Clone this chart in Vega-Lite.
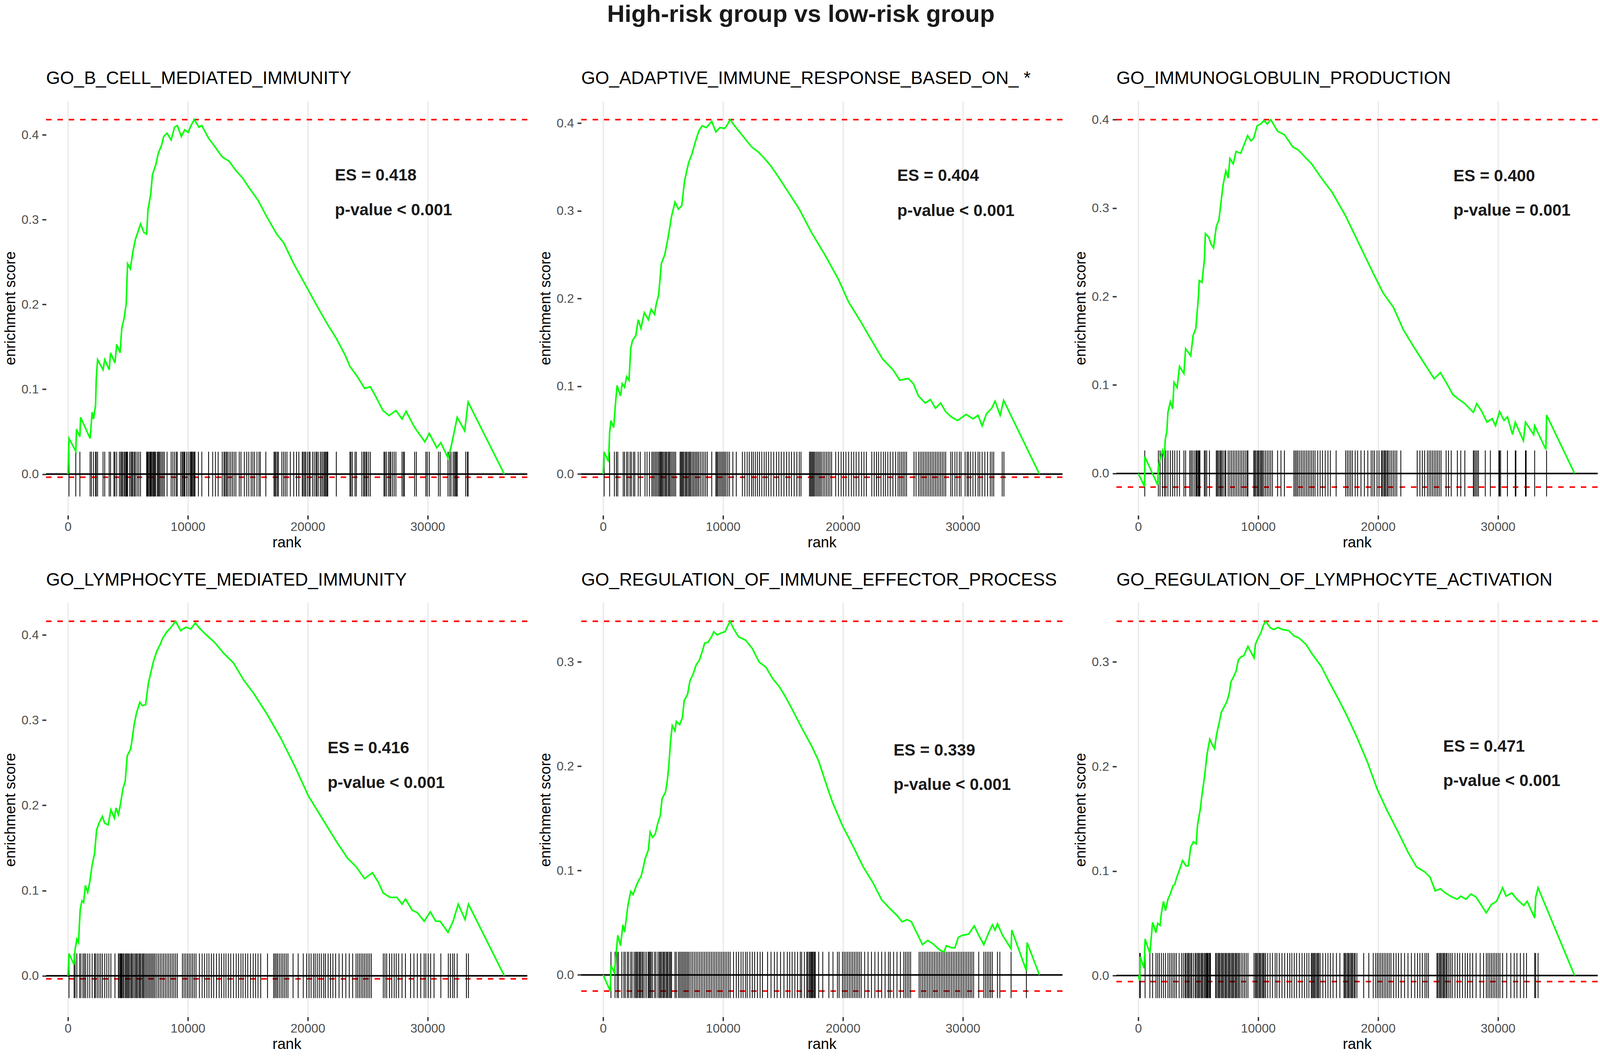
{
"$schema": "https://vega.github.io/schema/vega-lite/v6.json",
"background": "white",
"padding": {"left": 8, "top": 6, "right": 0, "bottom": 0},
"title": {"text": "High-risk group vs low-risk group", "fontSize": 62, "fontWeight": "bold", "anchor": "middle", "frame": "bounds", "baseline": "alphabetic", "offset": 60, "color": "#1A1A1A"},
"config": {
  "font": "Liberation Sans",
  "view": {"stroke": null},
  "axis": {"domain": false, "gridColor": "#EBEBEB", "gridWidth": 3.6, "tickColor": "#333333", "tickWidth": 3.6, "tickSize": 10, "labelColor": "#4D4D4D", "labelFontSize": 32, "labelFont": "Liberation Sans", "titleFont": "Liberation Sans", "titleFontSize": 38, "titleFontWeight": "normal", "titleColor": "#000000"},
  "title": {"font": "Liberation Sans", "fontSize": 46, "fontWeight": "normal", "anchor": "start", "frame": "group", "color": "#000000", "baseline": "alphabetic", "offset": 33}
},
"datasets": {
"curve": [
{"p":"A","r":0,"es":0},{"p":"A","r":85,"es":0.042},{"p":"A","r":653,"es":0.027},{"p":"A","r":710,"es":0.053},{"p":"A","r":994,"es":0.044},{"p":"A","r":1051,"es":0.067},{"p":"A","r":1847,"es":0.042},{"p":"A","r":2017,"es":0.073},{"p":"A","r":2131,"es":0.065},{"p":"A","r":2301,"es":0.081},{"p":"A","r":2358,"es":0.112},{"p":"A","r":2472,"es":0.135},{"p":"A","r":2926,"es":0.123},{"p":"A","r":3068,"es":0.135},{"p":"A","r":3438,"es":0.123},{"p":"A","r":3551,"es":0.143},{"p":"A","r":3921,"es":0.131},{"p":"A","r":4063,"es":0.153},{"p":"A","r":4347,"es":0.143},{"p":"A","r":4489,"es":0.172},{"p":"A","r":4688,"es":0.184},{"p":"A","r":4858,"es":0.201},{"p":"A","r":4972,"es":0.248},{"p":"A","r":5199,"es":0.242},{"p":"A","r":5426,"es":0.263},{"p":"A","r":5625,"es":0.277},{"p":"A","r":5824,"es":0.285},{"p":"A","r":6051,"es":0.295},{"p":"A","r":6335,"es":0.285},{"p":"A","r":6563,"es":0.283},{"p":"A","r":6676,"es":0.312},{"p":"A","r":6904,"es":0.330},{"p":"A","r":7046,"es":0.353},{"p":"A","r":7330,"es":0.365},{"p":"A","r":7529,"es":0.378},{"p":"A","r":7813,"es":0.388},{"p":"A","r":7983,"es":0.398},{"p":"A","r":8267,"es":0.402},{"p":"A","r":8608,"es":0.394},{"p":"A","r":8892,"es":0.409},{"p":"A","r":9120,"es":0.411},{"p":"A","r":9461,"es":0.398},{"p":"A","r":9745,"es":0.406},{"p":"A","r":10029,"es":0.403},{"p":"A","r":10256,"es":0.411},{"p":"A","r":10540,"es":0.418},{"p":"A","r":10938,"es":0.409},{"p":"A","r":11165,"es":0.411},{"p":"A","r":11733,"es":0.396},{"p":"A","r":12160,"es":0.388},{"p":"A","r":12870,"es":0.374},{"p":"A","r":13438,"es":0.369},{"p":"A","r":14006,"es":0.358},{"p":"A","r":14574,"es":0.349},{"p":"A","r":15143,"es":0.337},{"p":"A","r":15853,"es":0.323},{"p":"A","r":16563,"es":0.304},{"p":"A","r":17415,"es":0.283},{"p":"A","r":17984,"es":0.273},{"p":"A","r":18836,"es":0.248},{"p":"A","r":19972,"es":0.219},{"p":"A","r":20825,"es":0.197},{"p":"A","r":21677,"es":0.176},{"p":"A","r":22387,"es":0.160},{"p":"A","r":23097,"es":0.141},{"p":"A","r":23523,"es":0.127},{"p":"A","r":24092,"es":0.116},{"p":"A","r":24745,"es":0.101},{"p":"A","r":25228,"es":0.103},{"p":"A","r":25654,"es":0.092},{"p":"A","r":26279,"es":0.075},{"p":"A","r":26791,"es":0.069},{"p":"A","r":27359,"es":0.075},{"p":"A","r":27870,"es":0.065},{"p":"A","r":28211,"es":0.074},{"p":"A","r":28921,"es":0.055},{"p":"A","r":29774,"es":0.038},{"p":"A","r":30143,"es":0.048},{"p":"A","r":30768,"es":0.031},{"p":"A","r":31109,"es":0.037},{"p":"A","r":31706,"es":0.019},{"p":"A","r":31961,"es":0.032},{"p":"A","r":32473,"es":0.067},{"p":"A","r":33098,"es":0.051},{"p":"A","r":33382,"es":0.085},{"p":"A","r":36400,"es":0},
{"p":"B","r":0,"es":0},{"p":"B","r":85,"es":0.025},{"p":"B","r":455,"es":0.014},{"p":"B","r":540,"es":0.047},{"p":"B","r":653,"es":0.061},{"p":"B","r":881,"es":0.053},{"p":"B","r":1023,"es":0.079},{"p":"B","r":1165,"es":0.101},{"p":"B","r":1449,"es":0.089},{"p":"B","r":1591,"es":0.103},{"p":"B","r":1790,"es":0.099},{"p":"B","r":1960,"es":0.111},{"p":"B","r":2159,"es":0.107},{"p":"B","r":2301,"es":0.143},{"p":"B","r":2443,"es":0.152},{"p":"B","r":2727,"es":0.158},{"p":"B","r":2926,"es":0.176},{"p":"B","r":3154,"es":0.166},{"p":"B","r":3438,"es":0.184},{"p":"B","r":3779,"es":0.176},{"p":"B","r":4006,"es":0.188},{"p":"B","r":4290,"es":0.182},{"p":"B","r":4432,"es":0.194},{"p":"B","r":4631,"es":0.204},{"p":"B","r":4858,"es":0.240},{"p":"B","r":5142,"es":0.250},{"p":"B","r":5426,"es":0.270},{"p":"B","r":5710,"es":0.294},{"p":"B","r":5995,"es":0.310},{"p":"B","r":6279,"es":0.302},{"p":"B","r":6563,"es":0.306},{"p":"B","r":6790,"es":0.334},{"p":"B","r":7131,"es":0.355},{"p":"B","r":7415,"es":0.365},{"p":"B","r":7699,"es":0.379},{"p":"B","r":7983,"es":0.391},{"p":"B","r":8267,"es":0.397},{"p":"B","r":8608,"es":0.395},{"p":"B","r":9063,"es":0.402},{"p":"B","r":9404,"es":0.390},{"p":"B","r":9745,"es":0.395},{"p":"B","r":10114,"es":0.394},{"p":"B","r":10313,"es":0.397},{"p":"B","r":10597,"es":0.404},{"p":"B","r":10966,"es":0.397},{"p":"B","r":11677,"es":0.385},{"p":"B","r":12387,"es":0.373},{"p":"B","r":12955,"es":0.367},{"p":"B","r":13381,"es":0.361},{"p":"B","r":13949,"es":0.352},{"p":"B","r":14660,"es":0.338},{"p":"B","r":15512,"es":0.320},{"p":"B","r":16364,"es":0.302},{"p":"B","r":17358,"es":0.276},{"p":"B","r":18495,"es":0.250},{"p":"B","r":19631,"es":0.222},{"p":"B","r":20484,"es":0.196},{"p":"B","r":21478,"es":0.174},{"p":"B","r":22330,"es":0.154},{"p":"B","r":23325,"es":0.131},{"p":"B","r":24177,"es":0.119},{"p":"B","r":24745,"es":0.107},{"p":"B","r":25455,"es":0.109},{"p":"B","r":25882,"es":0.103},{"p":"B","r":26308,"es":0.089},{"p":"B","r":26876,"es":0.081},{"p":"B","r":27302,"es":0.085},{"p":"B","r":27728,"es":0.075},{"p":"B","r":28154,"es":0.081},{"p":"B","r":28580,"es":0.071},{"p":"B","r":29063,"es":0.065},{"p":"B","r":29575,"es":0.061},{"p":"B","r":30285,"es":0.068},{"p":"B","r":30853,"es":0.063},{"p":"B","r":31279,"es":0.067},{"p":"B","r":31620,"es":0.055},{"p":"B","r":31990,"es":0.069},{"p":"B","r":32416,"es":0.075},{"p":"B","r":32700,"es":0.083},{"p":"B","r":33126,"es":0.067},{"p":"B","r":33411,"es":0.084},{"p":"B","r":36400,"es":0},
{"p":"C","r":0,"es":0},{"p":"C","r":530,"es":-0.015},{"p":"C","r":545,"es":0.019},{"p":"C","r":1619,"es":-0.013},{"p":"C","r":1676,"es":0.008},{"p":"C","r":2017,"es":0.026},{"p":"C","r":2188,"es":0.018},{"p":"C","r":2244,"es":0.038},{"p":"C","r":2386,"es":0.048},{"p":"C","r":2472,"es":0.069},{"p":"C","r":2671,"es":0.081},{"p":"C","r":2869,"es":0.073},{"p":"C","r":2983,"es":0.103},{"p":"C","r":3239,"es":0.097},{"p":"C","r":3438,"es":0.121},{"p":"C","r":3807,"es":0.113},{"p":"C","r":3949,"es":0.141},{"p":"C","r":4375,"es":0.133},{"p":"C","r":4574,"es":0.156},{"p":"C","r":4801,"es":0.164},{"p":"C","r":5029,"es":0.202},{"p":"C","r":5085,"es":0.218},{"p":"C","r":5313,"es":0.216},{"p":"C","r":5512,"es":0.241},{"p":"C","r":5597,"es":0.271},{"p":"C","r":5881,"es":0.267},{"p":"C","r":6080,"es":0.259},{"p":"C","r":6279,"es":0.255},{"p":"C","r":6506,"es":0.279},{"p":"C","r":6733,"es":0.287},{"p":"C","r":6932,"es":0.310},{"p":"C","r":7074,"es":0.326},{"p":"C","r":7301,"es":0.342},{"p":"C","r":7500,"es":0.334},{"p":"C","r":7642,"es":0.356},{"p":"C","r":7926,"es":0.350},{"p":"C","r":8154,"es":0.364},{"p":"C","r":8551,"es":0.362},{"p":"C","r":8779,"es":0.370},{"p":"C","r":9120,"es":0.382},{"p":"C","r":9404,"es":0.376},{"p":"C","r":9631,"es":0.379},{"p":"C","r":9915,"es":0.393},{"p":"C","r":10199,"es":0.395},{"p":"C","r":10483,"es":0.399},{"p":"C","r":10768,"es":0.395},{"p":"C","r":11052,"es":0.400},{"p":"C","r":11620,"es":0.387},{"p":"C","r":12188,"es":0.383},{"p":"C","r":12898,"es":0.369},{"p":"C","r":13324,"es":0.366},{"p":"C","r":13892,"es":0.358},{"p":"C","r":14461,"es":0.350},{"p":"C","r":15171,"es":0.336},{"p":"C","r":16165,"es":0.318},{"p":"C","r":17301,"es":0.291},{"p":"C","r":18438,"es":0.259},{"p":"C","r":19575,"es":0.227},{"p":"C","r":20427,"es":0.204},{"p":"C","r":21279,"es":0.188},{"p":"C","r":22131,"es":0.162},{"p":"C","r":22984,"es":0.143},{"p":"C","r":23836,"es":0.125},{"p":"C","r":24688,"es":0.107},{"p":"C","r":25200,"es":0.114},{"p":"C","r":25683,"es":0.103},{"p":"C","r":26251,"es":0.089},{"p":"C","r":26819,"es":0.083},{"p":"C","r":27245,"es":0.079},{"p":"C","r":27671,"es":0.073},{"p":"C","r":27955,"es":0.069},{"p":"C","r":28240,"es":0.079},{"p":"C","r":28665,"es":0.070},{"p":"C","r":29092,"es":0.058},{"p":"C","r":29518,"es":0.062},{"p":"C","r":29802,"es":0.054},{"p":"C","r":30143,"es":0.070},{"p":"C","r":30512,"es":0.060},{"p":"C","r":30796,"es":0.064},{"p":"C","r":31222,"es":0.044},{"p":"C","r":31450,"es":0.058},{"p":"C","r":32131,"es":0.037},{"p":"C","r":32302,"es":0.058},{"p":"C","r":32984,"es":0.044},{"p":"C","r":33069,"es":0.054},{"p":"C","r":34006,"es":0.027},{"p":"C","r":34063,"es":0.066},{"p":"C","r":36400,"es":0},
{"p":"D","r":0,"es":0},{"p":"D","r":85,"es":0.026},{"p":"D","r":511,"es":0.013},{"p":"D","r":597,"es":0.031},{"p":"D","r":739,"es":0.043},{"p":"D","r":881,"es":0.039},{"p":"D","r":966,"es":0.064},{"p":"D","r":1023,"es":0.078},{"p":"D","r":1165,"es":0.088},{"p":"D","r":1307,"es":0.086},{"p":"D","r":1449,"es":0.106},{"p":"D","r":1648,"es":0.098},{"p":"D","r":1818,"es":0.110},{"p":"D","r":2017,"es":0.130},{"p":"D","r":2216,"es":0.143},{"p":"D","r":2386,"es":0.171},{"p":"D","r":2585,"es":0.179},{"p":"D","r":2869,"es":0.187},{"p":"D","r":3068,"es":0.179},{"p":"D","r":3352,"es":0.177},{"p":"D","r":3580,"es":0.195},{"p":"D","r":3864,"es":0.185},{"p":"D","r":4006,"es":0.197},{"p":"D","r":4205,"es":0.189},{"p":"D","r":4375,"es":0.201},{"p":"D","r":4574,"es":0.219},{"p":"D","r":4773,"es":0.228},{"p":"D","r":4943,"es":0.258},{"p":"D","r":5227,"es":0.266},{"p":"D","r":5341,"es":0.276},{"p":"D","r":5512,"es":0.294},{"p":"D","r":5710,"es":0.308},{"p":"D","r":5995,"es":0.321},{"p":"D","r":6193,"es":0.317},{"p":"D","r":6477,"es":0.318},{"p":"D","r":6705,"es":0.343},{"p":"D","r":6932,"es":0.357},{"p":"D","r":7131,"es":0.369},{"p":"D","r":7415,"es":0.381},{"p":"D","r":7699,"es":0.389},{"p":"D","r":7898,"es":0.396},{"p":"D","r":8267,"es":0.404},{"p":"D","r":8551,"es":0.408},{"p":"D","r":8978,"es":0.416},{"p":"D","r":9404,"es":0.405},{"p":"D","r":9830,"es":0.409},{"p":"D","r":10256,"es":0.407},{"p":"D","r":10625,"es":0.414},{"p":"D","r":10966,"es":0.408},{"p":"D","r":11534,"es":0.400},{"p":"D","r":12245,"es":0.391},{"p":"D","r":12955,"es":0.379},{"p":"D","r":13807,"es":0.367},{"p":"D","r":14660,"es":0.347},{"p":"D","r":15512,"es":0.331},{"p":"D","r":16648,"es":0.306},{"p":"D","r":17785,"es":0.278},{"p":"D","r":18921,"es":0.246},{"p":"D","r":20057,"es":0.211},{"p":"D","r":21194,"es":0.185},{"p":"D","r":22330,"es":0.159},{"p":"D","r":23325,"es":0.138},{"p":"D","r":24035,"es":0.128},{"p":"D","r":24745,"es":0.114},{"p":"D","r":25398,"es":0.121},{"p":"D","r":25881,"es":0.110},{"p":"D","r":26308,"es":0.097},{"p":"D","r":26876,"es":0.092},{"p":"D","r":27444,"es":0.092},{"p":"D","r":27870,"es":0.084},{"p":"D","r":28154,"es":0.090},{"p":"D","r":28722,"es":0.077},{"p":"D","r":29148,"es":0.074},{"p":"D","r":29716,"es":0.064},{"p":"D","r":30228,"es":0.075},{"p":"D","r":30682,"es":0.064},{"p":"D","r":31052,"es":0.064},{"p":"D","r":31706,"es":0.051},{"p":"D","r":32131,"es":0.064},{"p":"D","r":32558,"es":0.084},{"p":"D","r":33126,"es":0.066},{"p":"D","r":33410,"es":0.084},{"p":"D","r":36400,"es":0},
{"p":"E","r":0,"es":0},{"p":"E","r":597,"es":-0.0155},{"p":"E","r":653,"es":0.009},{"p":"E","r":938,"es":0.002},{"p":"E","r":1080,"es":0.020},{"p":"E","r":1222,"es":0.038},{"p":"E","r":1449,"es":0.028},{"p":"E","r":1648,"es":0.048},{"p":"E","r":1790,"es":0.041},{"p":"E","r":1932,"es":0.054},{"p":"E","r":2074,"es":0.067},{"p":"E","r":2301,"es":0.080},{"p":"E","r":2500,"es":0.077},{"p":"E","r":2784,"es":0.086},{"p":"E","r":2983,"es":0.091},{"p":"E","r":3154,"es":0.094},{"p":"E","r":3352,"es":0.103},{"p":"E","r":3494,"es":0.111},{"p":"E","r":3779,"es":0.120},{"p":"E","r":3921,"es":0.137},{"p":"E","r":4119,"es":0.132},{"p":"E","r":4347,"es":0.135},{"p":"E","r":4574,"es":0.146},{"p":"E","r":4773,"es":0.153},{"p":"E","r":4915,"es":0.169},{"p":"E","r":5199,"es":0.175},{"p":"E","r":5341,"es":0.185},{"p":"E","r":5483,"es":0.201},{"p":"E","r":5625,"es":0.224},{"p":"E","r":5767,"es":0.239},{"p":"E","r":5995,"es":0.234},{"p":"E","r":6108,"es":0.243},{"p":"E","r":6392,"es":0.240},{"p":"E","r":6620,"es":0.247},{"p":"E","r":6762,"es":0.263},{"p":"E","r":7046,"es":0.269},{"p":"E","r":7245,"es":0.282},{"p":"E","r":7529,"es":0.289},{"p":"E","r":7756,"es":0.297},{"p":"E","r":8040,"es":0.302},{"p":"E","r":8267,"es":0.310},{"p":"E","r":8466,"es":0.318},{"p":"E","r":8750,"es":0.319},{"p":"E","r":9034,"es":0.324},{"p":"E","r":9233,"es":0.329},{"p":"E","r":9517,"es":0.326},{"p":"E","r":9887,"es":0.328},{"p":"E","r":10171,"es":0.329},{"p":"E","r":10370,"es":0.334},{"p":"E","r":10597,"es":0.339},{"p":"E","r":10881,"es":0.332},{"p":"E","r":11307,"es":0.324},{"p":"E","r":11875,"es":0.321},{"p":"E","r":12443,"es":0.313},{"p":"E","r":13012,"es":0.300},{"p":"E","r":13580,"es":0.295},{"p":"E","r":14148,"es":0.284},{"p":"E","r":14716,"es":0.276},{"p":"E","r":15142,"es":0.268},{"p":"E","r":15711,"es":0.256},{"p":"E","r":16563,"es":0.237},{"p":"E","r":17415,"es":0.219},{"p":"E","r":17983,"es":0.205},{"p":"E","r":18552,"es":0.185},{"p":"E","r":19120,"es":0.166},{"p":"E","r":19972,"es":0.143},{"p":"E","r":20825,"es":0.124},{"p":"E","r":21677,"es":0.104},{"p":"E","r":22529,"es":0.088},{"p":"E","r":23239,"es":0.072},{"p":"E","r":23807,"es":0.065},{"p":"E","r":24517,"es":0.057},{"p":"E","r":24944,"es":0.051},{"p":"E","r":25370,"es":0.053},{"p":"E","r":25711,"es":0.051},{"p":"E","r":26222,"es":0.039},{"p":"E","r":26649,"es":0.029},{"p":"E","r":27075,"es":0.033},{"p":"E","r":27501,"es":0.030},{"p":"E","r":28069,"es":0.024},{"p":"E","r":28438,"es":0.022},{"p":"E","r":28637,"es":0.028},{"p":"E","r":29063,"es":0.026},{"p":"E","r":29347,"es":0.026},{"p":"E","r":29631,"es":0.036},{"p":"E","r":29972,"es":0.038},{"p":"E","r":30483,"es":0.039},{"p":"E","r":30966,"es":0.047},{"p":"E","r":31336,"es":0.038},{"p":"E","r":31762,"es":0.029},{"p":"E","r":32188,"es":0.041},{"p":"E","r":32473,"es":0.048},{"p":"E","r":32700,"es":0.043},{"p":"E","r":32899,"es":0.049},{"p":"E","r":33325,"es":0.038},{"p":"E","r":34035,"es":0.025},{"p":"E","r":34092,"es":0.043},{"p":"E","r":35313,"es":0.004},{"p":"E","r":35370,"es":0.031},{"p":"E","r":36400,"es":0},
{"p":"F","r":0,"es":0},{"p":"F","r":114,"es":-0.005},{"p":"F","r":170,"es":0.018},{"p":"F","r":483,"es":0.007},{"p":"F","r":568,"es":0.035},{"p":"F","r":966,"es":0.021},{"p":"F","r":1193,"es":0.051},{"p":"F","r":1477,"es":0.041},{"p":"F","r":1619,"es":0.050},{"p":"F","r":1818,"es":0.048},{"p":"F","r":1932,"es":0.060},{"p":"F","r":2102,"es":0.071},{"p":"F","r":2273,"es":0.062},{"p":"F","r":2472,"es":0.073},{"p":"F","r":2671,"es":0.078},{"p":"F","r":2898,"es":0.086},{"p":"F","r":3040,"es":0.087},{"p":"F","r":3182,"es":0.093},{"p":"F","r":3466,"es":0.102},{"p":"F","r":3693,"es":0.110},{"p":"F","r":3977,"es":0.105},{"p":"F","r":4176,"es":0.105},{"p":"F","r":4375,"es":0.123},{"p":"F","r":4602,"es":0.128},{"p":"F","r":4830,"es":0.126},{"p":"F","r":4943,"es":0.144},{"p":"F","r":5171,"es":0.159},{"p":"F","r":5313,"es":0.173},{"p":"F","r":5512,"es":0.189},{"p":"F","r":5739,"es":0.212},{"p":"F","r":5966,"es":0.226},{"p":"F","r":6165,"es":0.221},{"p":"F","r":6364,"es":0.217},{"p":"F","r":6534,"es":0.231},{"p":"F","r":6733,"es":0.241},{"p":"F","r":6932,"es":0.252},{"p":"F","r":7159,"es":0.257},{"p":"F","r":7387,"es":0.262},{"p":"F","r":7585,"es":0.270},{"p":"F","r":7728,"es":0.281},{"p":"F","r":7955,"es":0.286},{"p":"F","r":8154,"es":0.291},{"p":"F","r":8352,"es":0.302},{"p":"F","r":8580,"es":0.305},{"p":"F","r":8807,"es":0.306},{"p":"F","r":9148,"es":0.315},{"p":"F","r":9375,"es":0.310},{"p":"F","r":9659,"es":0.304},{"p":"F","r":9773,"es":0.317},{"p":"F","r":10000,"es":0.323},{"p":"F","r":10228,"es":0.328},{"p":"F","r":10427,"es":0.335},{"p":"F","r":10625,"es":0.339},{"p":"F","r":10995,"es":0.333},{"p":"F","r":11279,"es":0.331},{"p":"F","r":11648,"es":0.333},{"p":"F","r":12046,"es":0.331},{"p":"F","r":12557,"es":0.330},{"p":"F","r":12983,"es":0.325},{"p":"F","r":13409,"es":0.323},{"p":"F","r":13978,"es":0.317},{"p":"F","r":14546,"es":0.307},{"p":"F","r":15256,"es":0.296},{"p":"F","r":15966,"es":0.280},{"p":"F","r":16677,"es":0.265},{"p":"F","r":17387,"es":0.249},{"p":"F","r":18239,"es":0.228},{"p":"F","r":19092,"es":0.205},{"p":"F","r":19944,"es":0.178},{"p":"F","r":20796,"es":0.157},{"p":"F","r":21648,"es":0.138},{"p":"F","r":22501,"es":0.118},{"p":"F","r":23211,"es":0.104},{"p":"F","r":23921,"es":0.099},{"p":"F","r":24347,"es":0.094},{"p":"F","r":24773,"es":0.081},{"p":"F","r":25200,"es":0.083},{"p":"F","r":25626,"es":0.079},{"p":"F","r":26194,"es":0.075},{"p":"F","r":26620,"es":0.073},{"p":"F","r":26904,"es":0.076},{"p":"F","r":27330,"es":0.073},{"p":"F","r":27757,"es":0.078},{"p":"F","r":28183,"es":0.075},{"p":"F","r":28467,"es":0.070},{"p":"F","r":29035,"es":0.060},{"p":"F","r":29461,"es":0.068},{"p":"F","r":29887,"es":0.071},{"p":"F","r":30398,"es":0.084},{"p":"F","r":30682,"es":0.076},{"p":"F","r":31165,"es":0.079},{"p":"F","r":31591,"es":0.073},{"p":"F","r":32160,"es":0.067},{"p":"F","r":32444,"es":0.071},{"p":"F","r":33069,"es":0.055},{"p":"F","r":33154,"es":0.075},{"p":"F","r":33353,"es":0.084},{"p":"F","r":36400,"es":0}
],
"hits": [
{"p":"A","r":85},{"p":"A","r":653},{"p":"A","r":994},{"p":"A","r":1847},{"p":"A","r":1960},{"p":"A","r":2131},{"p":"A","r":2301},{"p":"A","r":2358},{"p":"A","r":2472},{"p":"A","r":2926},{"p":"A","r":3068},{"p":"A","r":3438},{"p":"A","r":3551},{"p":"A","r":3835},{"p":"A","r":3921},{"p":"A","r":4063},{"p":"A","r":4290},{"p":"A","r":4404},{"p":"A","r":4489},{"p":"A","r":4574},{"p":"A","r":4688},{"p":"A","r":4773},{"p":"A","r":4858},{"p":"A","r":4915},{"p":"A","r":4972},{"p":"A","r":5142},{"p":"A","r":5256},{"p":"A","r":5341},{"p":"A","r":5426},{"p":"A","r":5540},{"p":"A","r":5625},{"p":"A","r":5767},{"p":"A","r":5909},{"p":"A","r":6051},{"p":"A","r":6563},{"p":"A","r":6620},{"p":"A","r":6676},{"p":"A","r":6762},{"p":"A","r":6847},{"p":"A","r":6904},{"p":"A","r":6960},{"p":"A","r":7046},{"p":"A","r":7131},{"p":"A","r":7188},{"p":"A","r":7245},{"p":"A","r":7330},{"p":"A","r":7472},{"p":"A","r":7529},{"p":"A","r":7614},{"p":"A","r":7699},{"p":"A","r":7813},{"p":"A","r":7926},{"p":"A","r":8040},{"p":"A","r":8267},{"p":"A","r":8608},{"p":"A","r":8750},{"p":"A","r":8892},{"p":"A","r":9034},{"p":"A","r":9120},{"p":"A","r":9404},{"p":"A","r":9518},{"p":"A","r":9603},{"p":"A","r":9688},{"p":"A","r":9745},{"p":"A","r":9887},{"p":"A","r":10029},{"p":"A","r":10171},{"p":"A","r":10256},{"p":"A","r":10313},{"p":"A","r":10370},{"p":"A","r":10455},{"p":"A","r":10540},{"p":"A","r":10597},{"p":"A","r":10881},{"p":"A","r":11165},{"p":"A","r":11733},{"p":"A","r":12074},{"p":"A","r":12302},{"p":"A","r":12529},{"p":"A","r":12870},{"p":"A","r":13012},{"p":"A","r":13097},{"p":"A","r":13211},{"p":"A","r":13296},{"p":"A","r":13438},{"p":"A","r":13580},{"p":"A","r":13722},{"p":"A","r":13864},{"p":"A","r":14006},{"p":"A","r":14290},{"p":"A","r":14432},{"p":"A","r":14716},{"p":"A","r":14915},{"p":"A","r":15085},{"p":"A","r":15284},{"p":"A","r":15426},{"p":"A","r":15568},{"p":"A","r":15768},{"p":"A","r":15938},{"p":"A","r":16052},{"p":"A","r":16506},{"p":"A","r":17188},{"p":"A","r":17273},{"p":"A","r":17358},{"p":"A","r":17472},{"p":"A","r":17557},{"p":"A","r":17841},{"p":"A","r":17984},{"p":"A","r":18126},{"p":"A","r":18268},{"p":"A","r":18552},{"p":"A","r":18836},{"p":"A","r":19063},{"p":"A","r":19262},{"p":"A","r":19546},{"p":"A","r":19631},{"p":"A","r":19745},{"p":"A","r":19830},{"p":"A","r":19972},{"p":"A","r":20114},{"p":"A","r":20200},{"p":"A","r":20398},{"p":"A","r":20540},{"p":"A","r":20682},{"p":"A","r":20767},{"p":"A","r":20881},{"p":"A","r":21052},{"p":"A","r":21165},{"p":"A","r":21279},{"p":"A","r":21393},{"p":"A","r":21450},{"p":"A","r":21535},{"p":"A","r":21620},{"p":"A","r":21677},{"p":"A","r":22387},{"p":"A","r":23523},{"p":"A","r":23609},{"p":"A","r":23722},{"p":"A","r":23949},{"p":"A","r":24063},{"p":"A","r":24518},{"p":"A","r":24660},{"p":"A","r":24745},{"p":"A","r":24859},{"p":"A","r":24944},{"p":"A","r":25086},{"p":"A","r":25228},{"p":"A","r":26364},{"p":"A","r":26450},{"p":"A","r":26563},{"p":"A","r":26734},{"p":"A","r":26847},{"p":"A","r":26933},{"p":"A","r":27075},{"p":"A","r":27217},{"p":"A","r":27359},{"p":"A","r":27870},{"p":"A","r":27984},{"p":"A","r":28069},{"p":"A","r":28921},{"p":"A","r":29063},{"p":"A","r":29859},{"p":"A","r":29972},{"p":"A","r":30143},{"p":"A","r":30910},{"p":"A","r":31052},{"p":"A","r":31706},{"p":"A","r":31848},{"p":"A","r":31961},{"p":"A","r":32132},{"p":"A","r":32246},{"p":"A","r":32331},{"p":"A","r":32416},{"p":"A","r":32473},{"p":"A","r":33183},{"p":"A","r":33325},{"p":"A","r":33382},
{"p":"B","r":85},{"p":"B","r":540},{"p":"B","r":938},{"p":"B","r":1108},{"p":"B","r":1222},{"p":"B","r":1676},{"p":"B","r":1790},{"p":"B","r":1960},{"p":"B","r":2074},{"p":"B","r":2244},{"p":"B","r":2358},{"p":"B","r":2528},{"p":"B","r":2642},{"p":"B","r":2926},{"p":"B","r":3097},{"p":"B","r":3494},{"p":"B","r":3665},{"p":"B","r":3864},{"p":"B","r":4063},{"p":"B","r":4176},{"p":"B","r":4290},{"p":"B","r":4404},{"p":"B","r":4517},{"p":"B","r":4631},{"p":"B","r":4716},{"p":"B","r":4801},{"p":"B","r":4858},{"p":"B","r":4943},{"p":"B","r":5029},{"p":"B","r":5142},{"p":"B","r":5227},{"p":"B","r":5313},{"p":"B","r":5426},{"p":"B","r":5512},{"p":"B","r":5597},{"p":"B","r":5710},{"p":"B","r":5824},{"p":"B","r":5938},{"p":"B","r":6051},{"p":"B","r":6421},{"p":"B","r":6506},{"p":"B","r":6563},{"p":"B","r":6648},{"p":"B","r":6733},{"p":"B","r":6847},{"p":"B","r":6932},{"p":"B","r":7017},{"p":"B","r":7131},{"p":"B","r":7216},{"p":"B","r":7301},{"p":"B","r":7415},{"p":"B","r":7529},{"p":"B","r":7642},{"p":"B","r":7756},{"p":"B","r":7870},{"p":"B","r":7983},{"p":"B","r":8125},{"p":"B","r":8267},{"p":"B","r":8409},{"p":"B","r":8551},{"p":"B","r":8693},{"p":"B","r":9063},{"p":"B","r":9404},{"p":"B","r":9489},{"p":"B","r":9574},{"p":"B","r":9688},{"p":"B","r":9801},{"p":"B","r":9915},{"p":"B","r":10029},{"p":"B","r":10142},{"p":"B","r":10256},{"p":"B","r":10398},{"p":"B","r":10540},{"p":"B","r":10824},{"p":"B","r":11108},{"p":"B","r":11620},{"p":"B","r":11819},{"p":"B","r":12017},{"p":"B","r":12188},{"p":"B","r":12387},{"p":"B","r":12529},{"p":"B","r":12699},{"p":"B","r":12870},{"p":"B","r":13040},{"p":"B","r":13239},{"p":"B","r":13438},{"p":"B","r":13608},{"p":"B","r":13807},{"p":"B","r":14006},{"p":"B","r":14233},{"p":"B","r":14460},{"p":"B","r":14660},{"p":"B","r":14858},{"p":"B","r":15085},{"p":"B","r":15313},{"p":"B","r":15512},{"p":"B","r":15711},{"p":"B","r":15938},{"p":"B","r":16165},{"p":"B","r":16364},{"p":"B","r":16506},{"p":"B","r":17216},{"p":"B","r":17301},{"p":"B","r":17386},{"p":"B","r":17472},{"p":"B","r":17557},{"p":"B","r":17642},{"p":"B","r":17756},{"p":"B","r":17870},{"p":"B","r":17983},{"p":"B","r":18097},{"p":"B","r":18211},{"p":"B","r":18353},{"p":"B","r":18495},{"p":"B","r":18637},{"p":"B","r":18779},{"p":"B","r":18921},{"p":"B","r":19063},{"p":"B","r":19404},{"p":"B","r":19631},{"p":"B","r":19858},{"p":"B","r":20057},{"p":"B","r":20256},{"p":"B","r":20484},{"p":"B","r":20711},{"p":"B","r":20910},{"p":"B","r":21109},{"p":"B","r":21336},{"p":"B","r":21563},{"p":"B","r":21762},{"p":"B","r":21961},{"p":"B","r":22415},{"p":"B","r":22614},{"p":"B","r":22813},{"p":"B","r":22984},{"p":"B","r":23183},{"p":"B","r":23382},{"p":"B","r":23552},{"p":"B","r":23751},{"p":"B","r":23950},{"p":"B","r":24177},{"p":"B","r":24404},{"p":"B","r":24603},{"p":"B","r":24745},{"p":"B","r":24887},{"p":"B","r":25029},{"p":"B","r":25171},{"p":"B","r":25313},{"p":"B","r":25938},{"p":"B","r":26109},{"p":"B","r":26308},{"p":"B","r":26450},{"p":"B","r":26592},{"p":"B","r":26734},{"p":"B","r":26876},{"p":"B","r":27018},{"p":"B","r":27160},{"p":"B","r":27302},{"p":"B","r":27444},{"p":"B","r":27586},{"p":"B","r":27728},{"p":"B","r":27870},{"p":"B","r":28012},{"p":"B","r":28154},{"p":"B","r":28296},{"p":"B","r":28438},{"p":"B","r":28580},{"p":"B","r":29006},{"p":"B","r":29148},{"p":"B","r":29347},{"p":"B","r":29518},{"p":"B","r":29717},{"p":"B","r":29859},{"p":"B","r":30200},{"p":"B","r":30370},{"p":"B","r":30484},{"p":"B","r":30654},{"p":"B","r":30853},{"p":"B","r":31052},{"p":"B","r":31279},{"p":"B","r":31421},{"p":"B","r":31620},{"p":"B","r":31847},{"p":"B","r":32075},{"p":"B","r":32302},{"p":"B","r":32444},{"p":"B","r":32586},{"p":"B","r":33296},{"p":"B","r":33438},
{"p":"C","r":540},{"p":"C","r":1676},{"p":"C","r":1818},{"p":"C","r":2017},{"p":"C","r":2188},{"p":"C","r":2301},{"p":"C","r":2472},{"p":"C","r":2671},{"p":"C","r":2869},{"p":"C","r":3040},{"p":"C","r":3239},{"p":"C","r":3438},{"p":"C","r":3807},{"p":"C","r":3949},{"p":"C","r":4290},{"p":"C","r":4404},{"p":"C","r":4517},{"p":"C","r":4659},{"p":"C","r":4801},{"p":"C","r":4858},{"p":"C","r":4943},{"p":"C","r":5029},{"p":"C","r":5085},{"p":"C","r":5142},{"p":"C","r":5512},{"p":"C","r":5597},{"p":"C","r":5710},{"p":"C","r":5938},{"p":"C","r":6506},{"p":"C","r":6591},{"p":"C","r":6676},{"p":"C","r":6790},{"p":"C","r":6875},{"p":"C","r":6960},{"p":"C","r":7074},{"p":"C","r":7216},{"p":"C","r":7301},{"p":"C","r":7500},{"p":"C","r":7642},{"p":"C","r":7784},{"p":"C","r":7926},{"p":"C","r":8068},{"p":"C","r":8210},{"p":"C","r":8353},{"p":"C","r":8495},{"p":"C","r":8637},{"p":"C","r":8779},{"p":"C","r":8921},{"p":"C","r":9063},{"p":"C","r":9148},{"p":"C","r":9631},{"p":"C","r":9716},{"p":"C","r":9801},{"p":"C","r":9915},{"p":"C","r":10000},{"p":"C","r":10086},{"p":"C","r":10199},{"p":"C","r":10284},{"p":"C","r":10370},{"p":"C","r":10483},{"p":"C","r":10625},{"p":"C","r":10768},{"p":"C","r":10909},{"p":"C","r":11052},{"p":"C","r":11193},{"p":"C","r":11620},{"p":"C","r":11904},{"p":"C","r":12188},{"p":"C","r":12983},{"p":"C","r":13097},{"p":"C","r":13211},{"p":"C","r":13324},{"p":"C","r":13466},{"p":"C","r":13608},{"p":"C","r":13750},{"p":"C","r":13892},{"p":"C","r":14035},{"p":"C","r":14177},{"p":"C","r":14319},{"p":"C","r":14461},{"p":"C","r":14603},{"p":"C","r":14745},{"p":"C","r":14972},{"p":"C","r":15171},{"p":"C","r":15370},{"p":"C","r":15597},{"p":"C","r":15824},{"p":"C","r":16023},{"p":"C","r":16506},{"p":"C","r":17301},{"p":"C","r":17443},{"p":"C","r":17585},{"p":"C","r":17728},{"p":"C","r":17870},{"p":"C","r":18097},{"p":"C","r":18296},{"p":"C","r":18580},{"p":"C","r":18864},{"p":"C","r":19148},{"p":"C","r":19432},{"p":"C","r":19575},{"p":"C","r":19717},{"p":"C","r":19916},{"p":"C","r":20086},{"p":"C","r":20285},{"p":"C","r":20370},{"p":"C","r":20484},{"p":"C","r":20569},{"p":"C","r":20654},{"p":"C","r":20768},{"p":"C","r":20853},{"p":"C","r":20995},{"p":"C","r":21137},{"p":"C","r":21279},{"p":"C","r":21421},{"p":"C","r":21563},{"p":"C","r":21904},{"p":"C","r":23268},{"p":"C","r":23495},{"p":"C","r":23694},{"p":"C","r":23893},{"p":"C","r":24120},{"p":"C","r":24262},{"p":"C","r":24404},{"p":"C","r":24546},{"p":"C","r":24688},{"p":"C","r":24830},{"p":"C","r":24972},{"p":"C","r":25114},{"p":"C","r":25256},{"p":"C","r":25683},{"p":"C","r":25881},{"p":"C","r":26109},{"p":"C","r":26620},{"p":"C","r":26904},{"p":"C","r":27245},{"p":"C","r":27955},{"p":"C","r":28040},{"p":"C","r":28154},{"p":"C","r":28268},{"p":"C","r":28381},{"p":"C","r":28949},{"p":"C","r":29376},{"p":"C","r":30086},{"p":"C","r":30143},{"p":"C","r":30228},{"p":"C","r":30796},{"p":"C","r":31450},{"p":"C","r":31506},{"p":"C","r":32302},{"p":"C","r":32359},{"p":"C","r":33069},{"p":"C","r":34063},
{"p":"D","r":85},{"p":"D","r":511},{"p":"D","r":597},{"p":"D","r":739},{"p":"D","r":966},{"p":"D","r":1080},{"p":"D","r":1250},{"p":"D","r":1364},{"p":"D","r":1477},{"p":"D","r":1648},{"p":"D","r":1818},{"p":"D","r":2017},{"p":"D","r":2216},{"p":"D","r":2301},{"p":"D","r":2443},{"p":"D","r":2585},{"p":"D","r":2727},{"p":"D","r":2869},{"p":"D","r":3068},{"p":"D","r":3239},{"p":"D","r":3409},{"p":"D","r":3580},{"p":"D","r":3921},{"p":"D","r":4205},{"p":"D","r":4290},{"p":"D","r":4375},{"p":"D","r":4432},{"p":"D","r":4489},{"p":"D","r":4574},{"p":"D","r":4659},{"p":"D","r":4773},{"p":"D","r":4858},{"p":"D","r":4943},{"p":"D","r":5029},{"p":"D","r":5114},{"p":"D","r":5227},{"p":"D","r":5313},{"p":"D","r":5398},{"p":"D","r":5512},{"p":"D","r":5625},{"p":"D","r":5710},{"p":"D","r":5796},{"p":"D","r":5909},{"p":"D","r":5995},{"p":"D","r":6080},{"p":"D","r":6193},{"p":"D","r":6279},{"p":"D","r":6364},{"p":"D","r":6477},{"p":"D","r":6591},{"p":"D","r":6705},{"p":"D","r":6818},{"p":"D","r":6932},{"p":"D","r":7046},{"p":"D","r":7159},{"p":"D","r":7273},{"p":"D","r":7415},{"p":"D","r":7557},{"p":"D","r":7699},{"p":"D","r":7841},{"p":"D","r":7983},{"p":"D","r":8125},{"p":"D","r":8267},{"p":"D","r":8409},{"p":"D","r":8551},{"p":"D","r":8693},{"p":"D","r":8835},{"p":"D","r":8978},{"p":"D","r":9120},{"p":"D","r":9546},{"p":"D","r":9688},{"p":"D","r":9830},{"p":"D","r":9972},{"p":"D","r":10114},{"p":"D","r":10256},{"p":"D","r":10398},{"p":"D","r":10540},{"p":"D","r":10682},{"p":"D","r":10966},{"p":"D","r":11194},{"p":"D","r":11392},{"p":"D","r":11591},{"p":"D","r":11762},{"p":"D","r":11961},{"p":"D","r":12159},{"p":"D","r":12387},{"p":"D","r":12614},{"p":"D","r":12813},{"p":"D","r":13012},{"p":"D","r":13182},{"p":"D","r":13381},{"p":"D","r":13580},{"p":"D","r":13807},{"p":"D","r":14035},{"p":"D","r":14233},{"p":"D","r":14432},{"p":"D","r":14603},{"p":"D","r":14802},{"p":"D","r":15000},{"p":"D","r":15228},{"p":"D","r":15455},{"p":"D","r":15654},{"p":"D","r":15853},{"p":"D","r":16080},{"p":"D","r":16648},{"p":"D","r":17159},{"p":"D","r":17273},{"p":"D","r":17387},{"p":"D","r":17500},{"p":"D","r":17642},{"p":"D","r":17785},{"p":"D","r":17927},{"p":"D","r":18069},{"p":"D","r":18211},{"p":"D","r":18353},{"p":"D","r":18779},{"p":"D","r":19205},{"p":"D","r":19631},{"p":"D","r":19915},{"p":"D","r":20114},{"p":"D","r":20285},{"p":"D","r":20484},{"p":"D","r":20625},{"p":"D","r":20796},{"p":"D","r":20966},{"p":"D","r":21137},{"p":"D","r":21336},{"p":"D","r":21478},{"p":"D","r":21705},{"p":"D","r":21904},{"p":"D","r":22103},{"p":"D","r":22330},{"p":"D","r":22614},{"p":"D","r":22898},{"p":"D","r":23182},{"p":"D","r":23467},{"p":"D","r":23751},{"p":"D","r":24035},{"p":"D","r":24177},{"p":"D","r":24319},{"p":"D","r":24461},{"p":"D","r":24603},{"p":"D","r":24745},{"p":"D","r":24887},{"p":"D","r":25029},{"p":"D","r":25171},{"p":"D","r":25313},{"p":"D","r":26308},{"p":"D","r":26450},{"p":"D","r":26592},{"p":"D","r":26819},{"p":"D","r":27018},{"p":"D","r":27217},{"p":"D","r":27387},{"p":"D","r":27586},{"p":"D","r":27870},{"p":"D","r":28154},{"p":"D","r":28580},{"p":"D","r":28864},{"p":"D","r":29148},{"p":"D","r":29432},{"p":"D","r":29716},{"p":"D","r":29858},{"p":"D","r":30057},{"p":"D","r":30256},{"p":"D","r":30540},{"p":"D","r":31108},{"p":"D","r":31733},{"p":"D","r":31903},{"p":"D","r":32102},{"p":"D","r":32244},{"p":"D","r":32471},{"p":"D","r":33240},{"p":"D","r":33410},
{"p":"E","r":653},{"p":"E","r":994},{"p":"E","r":1165},{"p":"E","r":1278},{"p":"E","r":1563},{"p":"E","r":1733},{"p":"E","r":1847},{"p":"E","r":2017},{"p":"E","r":2131},{"p":"E","r":2301},{"p":"E","r":2415},{"p":"E","r":2585},{"p":"E","r":2699},{"p":"E","r":2784},{"p":"E","r":2869},{"p":"E","r":2983},{"p":"E","r":3068},{"p":"E","r":3154},{"p":"E","r":3267},{"p":"E","r":3352},{"p":"E","r":3494},{"p":"E","r":3636},{"p":"E","r":3779},{"p":"E","r":3835},{"p":"E","r":3921},{"p":"E","r":4006},{"p":"E","r":4119},{"p":"E","r":4290},{"p":"E","r":4404},{"p":"E","r":4574},{"p":"E","r":4688},{"p":"E","r":4773},{"p":"E","r":4858},{"p":"E","r":4972},{"p":"E","r":5057},{"p":"E","r":5142},{"p":"E","r":5256},{"p":"E","r":5341},{"p":"E","r":5426},{"p":"E","r":5540},{"p":"E","r":5625},{"p":"E","r":5710},{"p":"E","r":5995},{"p":"E","r":6108},{"p":"E","r":6279},{"p":"E","r":6392},{"p":"E","r":6506},{"p":"E","r":6620},{"p":"E","r":6733},{"p":"E","r":6847},{"p":"E","r":6960},{"p":"E","r":7074},{"p":"E","r":7188},{"p":"E","r":7330},{"p":"E","r":7472},{"p":"E","r":7614},{"p":"E","r":7756},{"p":"E","r":7898},{"p":"E","r":8040},{"p":"E","r":8182},{"p":"E","r":8324},{"p":"E","r":8466},{"p":"E","r":8608},{"p":"E","r":8750},{"p":"E","r":8892},{"p":"E","r":9034},{"p":"E","r":9176},{"p":"E","r":9318},{"p":"E","r":9461},{"p":"E","r":9603},{"p":"E","r":9745},{"p":"E","r":9887},{"p":"E","r":10029},{"p":"E","r":10171},{"p":"E","r":10313},{"p":"E","r":10455},{"p":"E","r":10597},{"p":"E","r":10881},{"p":"E","r":11108},{"p":"E","r":11307},{"p":"E","r":11506},{"p":"E","r":11677},{"p":"E","r":11875},{"p":"E","r":12017},{"p":"E","r":12245},{"p":"E","r":12443},{"p":"E","r":12642},{"p":"E","r":12870},{"p":"E","r":13097},{"p":"E","r":13296},{"p":"E","r":13722},{"p":"E","r":14006},{"p":"E","r":14290},{"p":"E","r":14517},{"p":"E","r":14801},{"p":"E","r":15085},{"p":"E","r":15369},{"p":"E","r":15568},{"p":"E","r":15767},{"p":"E","r":15995},{"p":"E","r":16222},{"p":"E","r":16449},{"p":"E","r":16563},{"p":"E","r":16790},{"p":"E","r":16989},{"p":"E","r":17074},{"p":"E","r":17188},{"p":"E","r":17273},{"p":"E","r":17358},{"p":"E","r":17415},{"p":"E","r":17472},{"p":"E","r":17557},{"p":"E","r":17642},{"p":"E","r":17699},{"p":"E","r":17983},{"p":"E","r":18324},{"p":"E","r":18835},{"p":"E","r":19177},{"p":"E","r":19546},{"p":"E","r":19688},{"p":"E","r":19972},{"p":"E","r":20114},{"p":"E","r":20256},{"p":"E","r":20398},{"p":"E","r":20540},{"p":"E","r":20682},{"p":"E","r":20825},{"p":"E","r":20967},{"p":"E","r":21109},{"p":"E","r":21251},{"p":"E","r":21393},{"p":"E","r":21535},{"p":"E","r":21819},{"p":"E","r":22103},{"p":"E","r":22387},{"p":"E","r":22671},{"p":"E","r":22955},{"p":"E","r":23239},{"p":"E","r":23523},{"p":"E","r":23807},{"p":"E","r":23949},{"p":"E","r":24233},{"p":"E","r":24517},{"p":"E","r":24802},{"p":"E","r":25086},{"p":"E","r":25228},{"p":"E","r":25370},{"p":"E","r":25512},{"p":"E","r":25654},{"p":"E","r":26364},{"p":"E","r":26506},{"p":"E","r":26649},{"p":"E","r":26791},{"p":"E","r":26933},{"p":"E","r":27075},{"p":"E","r":27217},{"p":"E","r":27359},{"p":"E","r":27501},{"p":"E","r":27643},{"p":"E","r":27785},{"p":"E","r":27927},{"p":"E","r":28069},{"p":"E","r":28211},{"p":"E","r":28353},{"p":"E","r":28495},{"p":"E","r":28637},{"p":"E","r":28779},{"p":"E","r":28921},{"p":"E","r":29063},{"p":"E","r":29205},{"p":"E","r":29347},{"p":"E","r":29489},{"p":"E","r":29631},{"p":"E","r":29773},{"p":"E","r":29915},{"p":"E","r":30057},{"p":"E","r":30199},{"p":"E","r":30341},{"p":"E","r":30483},{"p":"E","r":30625},{"p":"E","r":30767},{"p":"E","r":30909},{"p":"E","r":31336},{"p":"E","r":31762},{"p":"E","r":31904},{"p":"E","r":32046},{"p":"E","r":32188},{"p":"E","r":32330},{"p":"E","r":32473},{"p":"E","r":32899},{"p":"E","r":33097},{"p":"E","r":34035},{"p":"E","r":35313},
{"p":"F","r":114},{"p":"F","r":170},{"p":"F","r":568},{"p":"F","r":966},{"p":"F","r":1193},{"p":"F","r":1477},{"p":"F","r":1619},{"p":"F","r":1761},{"p":"F","r":1932},{"p":"F","r":2102},{"p":"F","r":2273},{"p":"F","r":2472},{"p":"F","r":2614},{"p":"F","r":2756},{"p":"F","r":2898},{"p":"F","r":3040},{"p":"F","r":3182},{"p":"F","r":3409},{"p":"F","r":3608},{"p":"F","r":3750},{"p":"F","r":3892},{"p":"F","r":3977},{"p":"F","r":4091},{"p":"F","r":4176},{"p":"F","r":4262},{"p":"F","r":4375},{"p":"F","r":4460},{"p":"F","r":4602},{"p":"F","r":4744},{"p":"F","r":4830},{"p":"F","r":4943},{"p":"F","r":5029},{"p":"F","r":5114},{"p":"F","r":5227},{"p":"F","r":5313},{"p":"F","r":5398},{"p":"F","r":5512},{"p":"F","r":5597},{"p":"F","r":5682},{"p":"F","r":5739},{"p":"F","r":5796},{"p":"F","r":5881},{"p":"F","r":5966},{"p":"F","r":6023},{"p":"F","r":6449},{"p":"F","r":6534},{"p":"F","r":6648},{"p":"F","r":6733},{"p":"F","r":6818},{"p":"F","r":6932},{"p":"F","r":7017},{"p":"F","r":7103},{"p":"F","r":7216},{"p":"F","r":7301},{"p":"F","r":7387},{"p":"F","r":7500},{"p":"F","r":7585},{"p":"F","r":7671},{"p":"F","r":7784},{"p":"F","r":7870},{"p":"F","r":7955},{"p":"F","r":8068},{"p":"F","r":8154},{"p":"F","r":8239},{"p":"F","r":8352},{"p":"F","r":8438},{"p":"F","r":8580},{"p":"F","r":8722},{"p":"F","r":8864},{"p":"F","r":9006},{"p":"F","r":9148},{"p":"F","r":9659},{"p":"F","r":9773},{"p":"F","r":9858},{"p":"F","r":9944},{"p":"F","r":10057},{"p":"F","r":10142},{"p":"F","r":10228},{"p":"F","r":10341},{"p":"F","r":10427},{"p":"F","r":10512},{"p":"F","r":10625},{"p":"F","r":10796},{"p":"F","r":10995},{"p":"F","r":11194},{"p":"F","r":11421},{"p":"F","r":11563},{"p":"F","r":11762},{"p":"F","r":11989},{"p":"F","r":12216},{"p":"F","r":12444},{"p":"F","r":12642},{"p":"F","r":12813},{"p":"F","r":13012},{"p":"F","r":13211},{"p":"F","r":13438},{"p":"F","r":13665},{"p":"F","r":13864},{"p":"F","r":14063},{"p":"F","r":14233},{"p":"F","r":14432},{"p":"F","r":14517},{"p":"F","r":14603},{"p":"F","r":14688},{"p":"F","r":14773},{"p":"F","r":14887},{"p":"F","r":14972},{"p":"F","r":15057},{"p":"F","r":15171},{"p":"F","r":15398},{"p":"F","r":15625},{"p":"F","r":15824},{"p":"F","r":16023},{"p":"F","r":16250},{"p":"F","r":16534},{"p":"F","r":16819},{"p":"F","r":17160},{"p":"F","r":17245},{"p":"F","r":17330},{"p":"F","r":17444},{"p":"F","r":17529},{"p":"F","r":17614},{"p":"F","r":17728},{"p":"F","r":17813},{"p":"F","r":17898},{"p":"F","r":18012},{"p":"F","r":18097},{"p":"F","r":18239},{"p":"F","r":18807},{"p":"F","r":19233},{"p":"F","r":19603},{"p":"F","r":19802},{"p":"F","r":19944},{"p":"F","r":20086},{"p":"F","r":20228},{"p":"F","r":20370},{"p":"F","r":20512},{"p":"F","r":20654},{"p":"F","r":20796},{"p":"F","r":20938},{"p":"F","r":21080},{"p":"F","r":21307},{"p":"F","r":21506},{"p":"F","r":21705},{"p":"F","r":21932},{"p":"F","r":22216},{"p":"F","r":22501},{"p":"F","r":22785},{"p":"F","r":23069},{"p":"F","r":23296},{"p":"F","r":23495},{"p":"F","r":23694},{"p":"F","r":23921},{"p":"F","r":24063},{"p":"F","r":24205},{"p":"F","r":24915},{"p":"F","r":25001},{"p":"F","r":25114},{"p":"F","r":25200},{"p":"F","r":25285},{"p":"F","r":25398},{"p":"F","r":25484},{"p":"F","r":25569},{"p":"F","r":25683},{"p":"F","r":25768},{"p":"F","r":25910},{"p":"F","r":26052},{"p":"F","r":26194},{"p":"F","r":26421},{"p":"F","r":26620},{"p":"F","r":26819},{"p":"F","r":27046},{"p":"F","r":27273},{"p":"F","r":27472},{"p":"F","r":27671},{"p":"F","r":27898},{"p":"F","r":28183},{"p":"F","r":28524},{"p":"F","r":28808},{"p":"F","r":29035},{"p":"F","r":29177},{"p":"F","r":29319},{"p":"F","r":29461},{"p":"F","r":29603},{"p":"F","r":29745},{"p":"F","r":29887},{"p":"F","r":30029},{"p":"F","r":30171},{"p":"F","r":30398},{"p":"F","r":30739},{"p":"F","r":31080},{"p":"F","r":31364},{"p":"F","r":31591},{"p":"F","r":31875},{"p":"F","r":32160},{"p":"F","r":32387},{"p":"F","r":33069},{"p":"F","r":33154},{"p":"F","r":33353}
]
},
"columns": 3,
"spacing": {"row": 223, "column": 138},
"bounds": "flush",
"concat": [
{
 "width": 1232, "height": 1061,
 "title": {"text": "GO_B_CELL_MEDIATED_IMMUNITY"},
 "layer": [
  {"data": {"values": [{}]}, "mark": {"type": "rule", "color": "#FF0000", "strokeWidth": 4, "strokeDash": [14, 15]}, "encoding": {"y": {"datum": 0.418, "type": "quantitative", "scale": {"domain": [-0.0486, 0.4402], "nice": false, "zero": false}, "axis": {"title": "enrichment score", "values": [0, 0.1, 0.2, 0.3, 0.4], "format": ".1f", "labelPadding": 9, "titlePadding": 8}}}},
  {"data": {"values": [{}]}, "mark": {"type": "rule", "color": "#FF0000", "strokeWidth": 4, "strokeDash": [14, 15]}, "encoding": {"y": {"datum": -0.0037, "type": "quantitative"}}},
  {"data": {"name": "hits"}, "transform": [{"filter": "datum.p === 'A'"}], "mark": {"type": "rule", "color": "#000000", "strokeWidth": 2},
   "encoding": {
    "x": {"field": "r", "type": "quantitative", "scale": {"domain": [-1825, 38325], "nice": false, "zero": false}, "axis": {"title": "rank", "values": [0, 10000, 20000, 30000], "format": "d", "labelPadding": 4, "titlePadding": 6}},
    "y": {"datum": -0.0264, "type": "quantitative"},
    "y2": {"datum": 0.0264}}},
  {"data": {"values": [{}]}, "mark": {"type": "rule", "color": "#000000", "strokeWidth": 4}, "encoding": {"y": {"datum": 0, "type": "quantitative"}}},
  {"data": {"name": "curve"}, "transform": [{"filter": "datum.p === 'A'"}], "mark": {"type": "line", "color": "#00FF00", "strokeWidth": 4}, "encoding": {"x": {"field": "r", "type": "quantitative"}, "y": {"field": "es", "type": "quantitative"}}},
  {"data": {"values": [{}]}, "mark": {"type": "text", "align": "left", "baseline": "middle", "fontSize": 42, "fontWeight": "bold", "color": "#1A1A1A"}, "encoding": {"x": {"datum": 22270, "type": "quantitative"}, "y": {"datum": 0.352, "type": "quantitative"}, "text": {"value": "ES = 0.418"}}},
  {"data": {"values": [{}]}, "mark": {"type": "text", "align": "left", "baseline": "middle", "fontSize": 42, "fontWeight": "bold", "color": "#1A1A1A"}, "encoding": {"x": {"datum": 22270, "type": "quantitative"}, "y": {"datum": 0.311, "type": "quantitative"}, "text": {"value": "p-value < 0.001"}}}
 ]
},
{
 "width": 1232, "height": 1061,
 "title": {"text": "GO_ADAPTIVE_IMMUNE_RESPONSE_BASED_ON_ *"},
 "layer": [
  {"data": {"values": [{}]}, "mark": {"type": "rule", "color": "#FF0000", "strokeWidth": 4, "strokeDash": [14, 15]}, "encoding": {"y": {"datum": 0.404, "type": "quantitative", "scale": {"domain": [-0.047, 0.4255], "nice": false, "zero": false}, "axis": {"title": "enrichment score", "values": [0, 0.1, 0.2, 0.3, 0.4], "format": ".1f", "labelPadding": 9, "titlePadding": 8}}}},
  {"data": {"values": [{}]}, "mark": {"type": "rule", "color": "#FF0000", "strokeWidth": 4, "strokeDash": [14, 15]}, "encoding": {"y": {"datum": -0.0036, "type": "quantitative"}}},
  {"data": {"name": "hits"}, "transform": [{"filter": "datum.p === 'B'"}], "mark": {"type": "rule", "color": "#000000", "strokeWidth": 2},
   "encoding": {
    "x": {"field": "r", "type": "quantitative", "scale": {"domain": [-1825, 38325], "nice": false, "zero": false}, "axis": {"title": "rank", "values": [0, 10000, 20000, 30000], "format": "d", "labelPadding": 4, "titlePadding": 6}},
    "y": {"datum": -0.0255, "type": "quantitative"},
    "y2": {"datum": 0.0255}}},
  {"data": {"values": [{}]}, "mark": {"type": "rule", "color": "#000000", "strokeWidth": 4}, "encoding": {"y": {"datum": 0, "type": "quantitative"}}},
  {"data": {"name": "curve"}, "transform": [{"filter": "datum.p === 'B'"}], "mark": {"type": "line", "color": "#00FF00", "strokeWidth": 4}, "encoding": {"x": {"field": "r", "type": "quantitative"}, "y": {"field": "es", "type": "quantitative"}}},
  {"data": {"values": [{}]}, "mark": {"type": "text", "align": "left", "baseline": "middle", "fontSize": 42, "fontWeight": "bold", "color": "#1A1A1A"}, "encoding": {"x": {"datum": 24540, "type": "quantitative"}, "y": {"datum": 0.340, "type": "quantitative"}, "text": {"value": "ES = 0.404"}}},
  {"data": {"values": [{}]}, "mark": {"type": "text", "align": "left", "baseline": "middle", "fontSize": 42, "fontWeight": "bold", "color": "#1A1A1A"}, "encoding": {"x": {"datum": 24540, "type": "quantitative"}, "y": {"datum": 0.300, "type": "quantitative"}, "text": {"value": "p-value < 0.001"}}}
 ]
},
{
 "width": 1232, "height": 1061,
 "title": {"text": "GO_IMMUNOGLOBULIN_PRODUCTION"},
 "layer": [
  {"data": {"values": [{}]}, "mark": {"type": "rule", "color": "#FF0000", "strokeWidth": 4, "strokeDash": [14, 15]}, "encoding": {"y": {"datum": 0.400, "type": "quantitative", "scale": {"domain": [-0.0473, 0.4213], "nice": false, "zero": false}, "axis": {"title": "enrichment score", "values": [0, 0.1, 0.2, 0.3, 0.4], "format": ".1f", "labelPadding": 9, "titlePadding": 8}}}},
  {"data": {"values": [{}]}, "mark": {"type": "rule", "color": "#FF0000", "strokeWidth": 4, "strokeDash": [14, 15]}, "encoding": {"y": {"datum": -0.0154, "type": "quantitative"}}},
  {"data": {"name": "hits"}, "transform": [{"filter": "datum.p === 'C'"}], "mark": {"type": "rule", "color": "#000000", "strokeWidth": 2},
   "encoding": {
    "x": {"field": "r", "type": "quantitative", "scale": {"domain": [-1825, 38325], "nice": false, "zero": false}, "axis": {"title": "rank", "values": [0, 10000, 20000, 30000], "format": "d", "labelPadding": 4, "titlePadding": 6}},
    "y": {"datum": -0.026, "type": "quantitative"},
    "y2": {"datum": 0.026}}},
  {"data": {"values": [{}]}, "mark": {"type": "rule", "color": "#000000", "strokeWidth": 4}, "encoding": {"y": {"datum": 0, "type": "quantitative"}}},
  {"data": {"name": "curve"}, "transform": [{"filter": "datum.p === 'C'"}], "mark": {"type": "line", "color": "#00FF00", "strokeWidth": 4}, "encoding": {"x": {"field": "r", "type": "quantitative"}, "y": {"field": "es", "type": "quantitative"}}},
  {"data": {"values": [{}]}, "mark": {"type": "text", "align": "left", "baseline": "middle", "fontSize": 42, "fontWeight": "bold", "color": "#1A1A1A"}, "encoding": {"x": {"datum": 26290, "type": "quantitative"}, "y": {"datum": 0.336, "type": "quantitative"}, "text": {"value": "ES = 0.400"}}},
  {"data": {"values": [{}]}, "mark": {"type": "text", "align": "left", "baseline": "middle", "fontSize": 42, "fontWeight": "bold", "color": "#1A1A1A"}, "encoding": {"x": {"datum": 26290, "type": "quantitative"}, "y": {"datum": 0.297, "type": "quantitative"}, "text": {"value": "p-value = 0.001"}}}
 ]
},
{
 "width": 1232, "height": 1061,
 "title": {"text": "GO_LYMPHOCYTE_MEDIATED_IMMUNITY"},
 "layer": [
  {"data": {"values": [{}]}, "mark": {"type": "rule", "color": "#FF0000", "strokeWidth": 4, "strokeDash": [14, 15]}, "encoding": {"y": {"datum": 0.416, "type": "quantitative", "scale": {"domain": [-0.0483, 0.4381], "nice": false, "zero": false}, "axis": {"title": "enrichment score", "values": [0, 0.1, 0.2, 0.3, 0.4], "format": ".1f", "labelPadding": 9, "titlePadding": 8}}}},
  {"data": {"values": [{}]}, "mark": {"type": "rule", "color": "#FF0000", "strokeWidth": 4, "strokeDash": [14, 15]}, "encoding": {"y": {"datum": -0.0036, "type": "quantitative"}}},
  {"data": {"name": "hits"}, "transform": [{"filter": "datum.p === 'D'"}], "mark": {"type": "rule", "color": "#000000", "strokeWidth": 2},
   "encoding": {
    "x": {"field": "r", "type": "quantitative", "scale": {"domain": [-1825, 38325], "nice": false, "zero": false}, "axis": {"title": "rank", "values": [0, 10000, 20000, 30000], "format": "d", "labelPadding": 4, "titlePadding": 6}},
    "y": {"datum": -0.0262, "type": "quantitative"},
    "y2": {"datum": 0.0262}}},
  {"data": {"values": [{}]}, "mark": {"type": "rule", "color": "#000000", "strokeWidth": 4}, "encoding": {"y": {"datum": 0, "type": "quantitative"}}},
  {"data": {"name": "curve"}, "transform": [{"filter": "datum.p === 'D'"}], "mark": {"type": "line", "color": "#00FF00", "strokeWidth": 4}, "encoding": {"x": {"field": "r", "type": "quantitative"}, "y": {"field": "es", "type": "quantitative"}}},
  {"data": {"values": [{}]}, "mark": {"type": "text", "align": "left", "baseline": "middle", "fontSize": 42, "fontWeight": "bold", "color": "#1A1A1A"}, "encoding": {"x": {"datum": 21660, "type": "quantitative"}, "y": {"datum": 0.267, "type": "quantitative"}, "text": {"value": "ES = 0.416"}}},
  {"data": {"values": [{}]}, "mark": {"type": "text", "align": "left", "baseline": "middle", "fontSize": 42, "fontWeight": "bold", "color": "#1A1A1A"}, "encoding": {"x": {"datum": 21660, "type": "quantitative"}, "y": {"datum": 0.2265, "type": "quantitative"}, "text": {"value": "p-value < 0.001"}}}
 ]
},
{
 "width": 1232, "height": 1061,
 "title": {"text": "GO_REGULATION_OF_IMMUNE_EFFECTOR_PROCESS"},
 "layer": [
  {"data": {"values": [{}]}, "mark": {"type": "rule", "color": "#FF0000", "strokeWidth": 4, "strokeDash": [14, 15]}, "encoding": {"y": {"datum": 0.339, "type": "quantitative", "scale": {"domain": [-0.0403, 0.3571], "nice": false, "zero": false}, "axis": {"title": "enrichment score", "values": [0, 0.1, 0.2, 0.3], "format": ".1f", "labelPadding": 9, "titlePadding": 8}}}},
  {"data": {"values": [{}]}, "mark": {"type": "rule", "color": "#FF0000", "strokeWidth": 4, "strokeDash": [14, 15]}, "encoding": {"y": {"datum": -0.0155, "type": "quantitative"}}},
  {"data": {"name": "hits"}, "transform": [{"filter": "datum.p === 'E'"}], "mark": {"type": "rule", "color": "#000000", "strokeWidth": 2},
   "encoding": {
    "x": {"field": "r", "type": "quantitative", "scale": {"domain": [-1825, 38325], "nice": false, "zero": false}, "axis": {"title": "rank", "values": [0, 10000, 20000, 30000], "format": "d", "labelPadding": 4, "titlePadding": 6}},
    "y": {"datum": -0.0222, "type": "quantitative"},
    "y2": {"datum": 0.0222}}},
  {"data": {"values": [{}]}, "mark": {"type": "rule", "color": "#000000", "strokeWidth": 4}, "encoding": {"y": {"datum": 0, "type": "quantitative"}}},
  {"data": {"name": "curve"}, "transform": [{"filter": "datum.p === 'E'"}], "mark": {"type": "line", "color": "#00FF00", "strokeWidth": 4}, "encoding": {"x": {"field": "r", "type": "quantitative"}, "y": {"field": "es", "type": "quantitative"}}},
  {"data": {"values": [{}]}, "mark": {"type": "text", "align": "left", "baseline": "middle", "fontSize": 42, "fontWeight": "bold", "color": "#1A1A1A"}, "encoding": {"x": {"datum": 24230, "type": "quantitative"}, "y": {"datum": 0.215, "type": "quantitative"}, "text": {"value": "ES = 0.339"}}},
  {"data": {"values": [{}]}, "mark": {"type": "text", "align": "left", "baseline": "middle", "fontSize": 42, "fontWeight": "bold", "color": "#1A1A1A"}, "encoding": {"x": {"datum": 24230, "type": "quantitative"}, "y": {"datum": 0.182, "type": "quantitative"}, "text": {"value": "p-value < 0.001"}}}
 ]
},
{
 "width": 1232, "height": 1061,
 "title": {"text": "GO_REGULATION_OF_LYMPHOCYTE_ACTIVATION"},
 "layer": [
  {"data": {"values": [{}]}, "mark": {"type": "rule", "color": "#FF0000", "strokeWidth": 4, "strokeDash": [14, 15]}, "encoding": {"y": {"datum": 0.339, "type": "quantitative", "scale": {"domain": [-0.0396, 0.357], "nice": false, "zero": false}, "axis": {"title": "enrichment score", "values": [0, 0.1, 0.2, 0.3], "format": ".1f", "labelPadding": 9, "titlePadding": 8}}}},
  {"data": {"values": [{}]}, "mark": {"type": "rule", "color": "#FF0000", "strokeWidth": 4, "strokeDash": [14, 15]}, "encoding": {"y": {"datum": -0.0058, "type": "quantitative"}}},
  {"data": {"name": "hits"}, "transform": [{"filter": "datum.p === 'F'"}], "mark": {"type": "rule", "color": "#000000", "strokeWidth": 2},
   "encoding": {
    "x": {"field": "r", "type": "quantitative", "scale": {"domain": [-1825, 38325], "nice": false, "zero": false}, "axis": {"title": "rank", "values": [0, 10000, 20000, 30000], "format": "d", "labelPadding": 4, "titlePadding": 6}},
    "y": {"datum": -0.0216, "type": "quantitative"},
    "y2": {"datum": 0.0216}}},
  {"data": {"values": [{}]}, "mark": {"type": "rule", "color": "#000000", "strokeWidth": 4}, "encoding": {"y": {"datum": 0, "type": "quantitative"}}},
  {"data": {"name": "curve"}, "transform": [{"filter": "datum.p === 'F'"}], "mark": {"type": "line", "color": "#00FF00", "strokeWidth": 4}, "encoding": {"x": {"field": "r", "type": "quantitative"}, "y": {"field": "es", "type": "quantitative"}}},
  {"data": {"values": [{}]}, "mark": {"type": "text", "align": "left", "baseline": "middle", "fontSize": 42, "fontWeight": "bold", "color": "#1A1A1A"}, "encoding": {"x": {"datum": 25440, "type": "quantitative"}, "y": {"datum": 0.219, "type": "quantitative"}, "text": {"value": "ES = 0.471"}}},
  {"data": {"values": [{}]}, "mark": {"type": "text", "align": "left", "baseline": "middle", "fontSize": 42, "fontWeight": "bold", "color": "#1A1A1A"}, "encoding": {"x": {"datum": 25440, "type": "quantitative"}, "y": {"datum": 0.186, "type": "quantitative"}, "text": {"value": "p-value < 0.001"}}}
 ]
}
]
}
